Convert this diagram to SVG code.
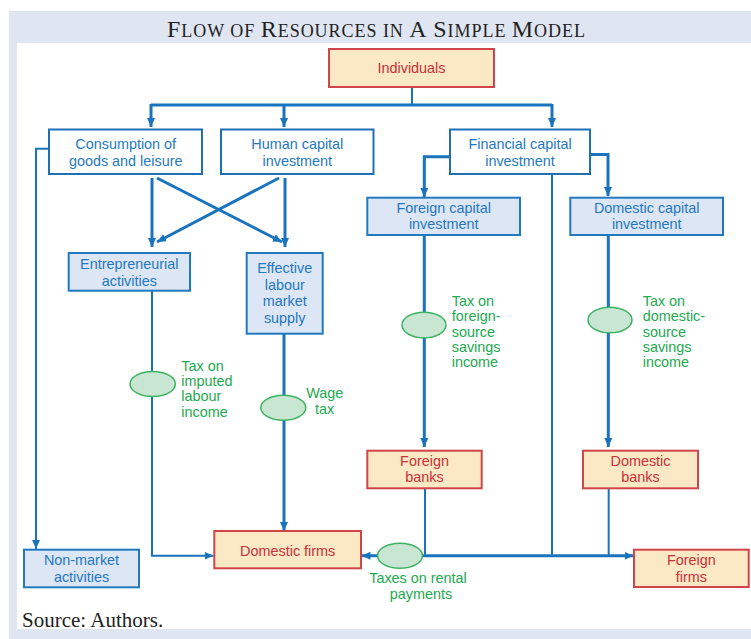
<svg xmlns="http://www.w3.org/2000/svg" width="751" height="639" viewBox="0 0 751 639">
<style>
.t{font-family:"Liberation Sans",Arial,sans-serif;font-size:14.4px;text-anchor:middle}
.bt{fill:#1f78c1}
.rt{fill:#c9303a}
.gt{fill:#22a94f;font-family:"Liberation Sans",Arial,sans-serif;font-size:14.4px}
.bw{fill:#ffffff;stroke:#1f6fb5;stroke-width:2}
.bb{fill:#dde6f4;stroke:#2179c0;stroke-width:2}
.ry{fill:#fae9c4;stroke:#d0444a;stroke-width:2}
.el{fill:#c8e6d2;stroke:#3db262;stroke-width:1.5}
.th{fill:none;stroke:#1a74bd;stroke-width:3}
.tn{fill:none;stroke:#1a74bd;stroke-width:2}
.L{font-size:24px}
.s{font-size:18px}
</style>
<defs>
<marker id="ah" markerUnits="userSpaceOnUse" markerWidth="10" markerHeight="10" viewBox="0 0 10 8" refX="9" refY="4" orient="auto">
<path d="M0,0 L9,4 L0,8 z" fill="#1a74bd"/>
</marker>
</defs>
<rect x="9" y="11" width="742" height="628" fill="#dfe6f2"/>
<rect x="17" y="43" width="734" height="586" fill="#ffffff"/>
<text x="376" y="36.5" font-family="'Liberation Serif','Times New Roman',serif" fill="#222" text-anchor="middle" textLength="418" lengthAdjust="spacing"><tspan class="L">F</tspan><tspan class="s">LOW OF </tspan><tspan class="L">R</tspan><tspan class="s">ESOURCES IN </tspan><tspan class="L">A S</tspan><tspan class="s">IMPLE </tspan><tspan class="L">M</tspan><tspan class="s">ODEL</tspan></text>
<text x="22" y="626.5" font-family="'Liberation Serif','Times New Roman',serif" font-size="21" fill="#222">Source: Authors.</text>

<g id="connectors">
<path class="tn" d="M412,87 V105"/>
<path class="th" d="M151,105 H552"/>
<path class="th" d="M151,104 V127" marker-end="url(#ah)"/>
<path class="th" d="M284,104 V127" marker-end="url(#ah)"/>
<path class="th" d="M552,104 V127" marker-end="url(#ah)"/>
<path class="tn" d="M49,148.7 H36 V549" marker-end="url(#ah)"/>
<path class="th" d="M152,178 V247" marker-end="url(#ah)"/>
<path class="th" d="M157,178 L282,242" marker-end="url(#ah)"/>
<path class="th" d="M285,178 V247" marker-end="url(#ah)"/>
<path class="th" d="M279,178 L157,242" marker-end="url(#ah)"/>
<path class="tn" d="M152,291 V555.7 H213.5" marker-end="url(#ah)"/>
<path class="th" d="M284,334 V531" marker-end="url(#ah)"/>
<path class="th" d="M450,156.7 H424.3 V197" marker-end="url(#ah)"/>
<path class="th" d="M590,154.5 H608 V196" marker-end="url(#ah)"/>
<path class="tn" d="M552,174 V555.7"/>
<path class="th" d="M424.3,235 V447" marker-end="url(#ah)"/>
<path class="th" d="M608.3,235 V447" marker-end="url(#ah)"/>
<path class="tn" d="M425,488 V555.7"/>
<path class="tn" d="M608.7,488 V555.7"/>
<path class="th" d="M422,555.7 H633.5" marker-end="url(#ah)"/>
<path class="th" d="M378,555.7 H361.5" marker-end="url(#ah)"/>
</g>

<g id="individuals"><rect class="ry" x="329" y="49" width="165" height="38"/><text class="t rt" x="411.5" y="73">Individuals</text></g>
<g id="consumption"><rect class="bw" x="49" y="129.5" width="153" height="44.5"/><text class="t bt" x="125.7" y="149">Consumption of</text><text class="t bt" x="125.7" y="166">goods and leisure</text></g>
<g id="human"><rect class="bw" x="221" y="129.5" width="152.5" height="44.5"/><text class="t bt" x="297.3" y="149">Human capital</text><text class="t bt" x="297.3" y="166">investment</text></g>
<g id="financial"><rect class="bw" x="450" y="129.5" width="140" height="44.5"/><text class="t bt" x="520" y="149.3">Financial capital</text><text class="t bt" x="520" y="165.7">investment</text></g>
<g id="entrepreneurial"><rect class="bb" x="68.7" y="253" width="121.3" height="37.7"/><text class="t bt" x="129.3" y="269">Entrepreneurial</text><text class="t bt" x="129.3" y="285.7">activities</text></g>
<g id="effective"><rect class="bb" x="246.7" y="253" width="76" height="80.7"/><text class="t bt" x="284.7" y="273.2">Effective</text><text class="t bt" x="284.7" y="289.8">labour</text><text class="t bt" x="284.7" y="306.4">market</text><text class="t bt" x="284.7" y="323">supply</text></g>
<g id="foreigncap"><rect class="bb" x="367.3" y="197.7" width="152.7" height="37.3"/><text class="t bt" x="443.7" y="212.7">Foreign capital</text><text class="t bt" x="443.7" y="229.3">investment</text></g>
<g id="domesticcap"><rect class="bb" x="570.3" y="197.7" width="152.7" height="37.3"/><text class="t bt" x="646.7" y="212.7">Domestic capital</text><text class="t bt" x="646.7" y="229.3">investment</text></g>
<g id="foreignbanks"><rect class="ry" x="367.3" y="450.7" width="114.4" height="37.6"/><text class="t rt" x="424.5" y="465.7">Foreign</text><text class="t rt" x="424.5" y="482.3">banks</text></g>
<g id="domesticbanks"><rect class="ry" x="583" y="450.7" width="115" height="37.6"/><text class="t rt" x="640.5" y="465.7">Domestic</text><text class="t rt" x="640.5" y="482.3">banks</text></g>
<g id="domesticfirms"><rect class="ry" x="214.3" y="531" width="146.7" height="37.3"/><text class="t rt" x="287.7" y="555.5">Domestic firms</text></g>
<g id="foreignfirms"><rect class="ry" x="634" y="549.7" width="114.7" height="37.3"/><text class="t rt" x="691.3" y="565">Foreign</text><text class="t rt" x="691.3" y="581.7">firms</text></g>
<g id="nonmarket"><rect class="bb" x="24" y="549.7" width="115" height="37.6"/><text class="t bt" x="81.5" y="565">Non-market</text><text class="t bt" x="81.5" y="581.7">activities</text></g>

<g id="tax-imputed"><ellipse class="el" cx="152.7" cy="384" rx="22.7" ry="12.5"/><text class="gt" x="181.3"><tspan x="181.3" y="370.7">Tax on</tspan><tspan x="181.3" y="386">imputed</tspan><tspan x="181.3" y="401.3">labour</tspan><tspan x="181.3" y="416.6">income</tspan></text></g>
<g id="tax-wage"><ellipse class="el" cx="283.3" cy="407.7" rx="22.5" ry="12.5"/><text class="gt" text-anchor="middle"><tspan x="324.7" y="398.3">Wage</tspan><tspan x="324.7" y="414">tax</tspan></text></g>
<g id="tax-foreign"><ellipse class="el" cx="424" cy="325" rx="22" ry="12.8"/><text class="gt"><tspan x="451.7" y="306">Tax on</tspan><tspan x="451.7" y="321.3">foreign-</tspan><tspan x="451.7" y="336.6">source</tspan><tspan x="451.7" y="351.9">savings</tspan><tspan x="451.7" y="367.2">income</tspan></text></g>
<g id="tax-domestic"><ellipse class="el" cx="610" cy="320" rx="22" ry="12.8"/><text class="gt"><tspan x="642.7" y="306">Tax on</tspan><tspan x="642.7" y="321.3">domestic-</tspan><tspan x="642.7" y="336.6">source</tspan><tspan x="642.7" y="351.9">savings</tspan><tspan x="642.7" y="367.2">income</tspan></text></g>
<g id="tax-rental"><ellipse class="el" cx="400" cy="555.7" rx="22.5" ry="12.5"/><text class="gt" text-anchor="middle"><tspan x="418" y="583.3">Taxes on rental</tspan><tspan x="421" y="599.3">payments</tspan></text></g>
</svg>
